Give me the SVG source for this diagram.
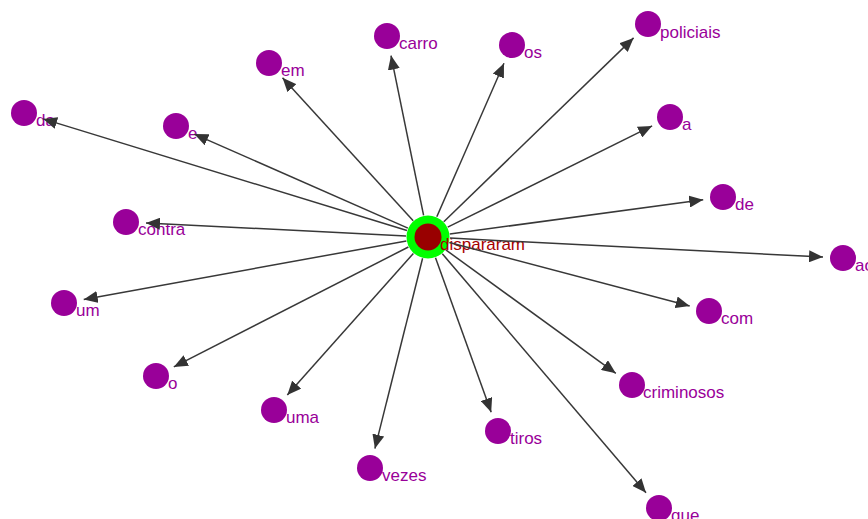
<svg xmlns="http://www.w3.org/2000/svg" width="868" height="519" viewBox="0 0 868 519">
<style>
.n{fill:#990099}
.t{font-family:"Liberation Sans",Arial,sans-serif;font-size:17px;fill:#990099}
.ct{font-family:"Liberation Sans",Arial,sans-serif;font-size:17px;fill:#a80000}
.e{stroke:#383838;stroke-width:1.5;fill:none;marker-end:url(#ah)}
</style>
<defs>
<marker id="ah" markerUnits="userSpaceOnUse" markerWidth="14" markerHeight="12" refX="14" refY="6" orient="auto">
<path d="M0,0 L14,6 L0,12 z" fill="#333333"/>
</marker>
</defs>
<rect width="868" height="519" fill="#ffffff"/>
<g id="nodes">
<g id="n-da"><circle class="n" cx="24" cy="113" r="13"/><text class="t" x="36" y="126">da</text></g>
<g id="n-e"><circle class="n" cx="176" cy="126" r="13"/><text class="t" x="188" y="139">e</text></g>
<g id="n-em"><circle class="n" cx="269" cy="63" r="13"/><text class="t" x="281" y="76">em</text></g>
<g id="n-carro"><circle class="n" cx="387" cy="36" r="13"/><text class="t" x="399" y="49">carro</text></g>
<g id="n-os"><circle class="n" cx="512" cy="45" r="13"/><text class="t" x="524" y="58">os</text></g>
<g id="n-policiais"><circle class="n" cx="648" cy="24" r="13"/><text class="t" x="660" y="38">policiais</text></g>
<g id="n-a"><circle class="n" cx="670" cy="117" r="13"/><text class="t" x="682" y="130">a</text></g>
<g id="n-de"><circle class="n" cx="723" cy="197" r="13"/><text class="t" x="735" y="210">de</text></g>
<g id="n-ao"><circle class="n" cx="843" cy="258" r="13"/><text class="t" x="855" y="271">ao</text></g>
<g id="n-com"><circle class="n" cx="709" cy="311" r="13"/><text class="t" x="721" y="324">com</text></g>
<g id="n-criminosos"><circle class="n" cx="632" cy="385" r="13"/><text class="t" x="643" y="398">criminosos</text></g>
<g id="n-que"><circle class="n" cx="659" cy="508" r="13"/><text class="t" x="671" y="521">que</text></g>
<g id="n-tiros"><circle class="n" cx="498" cy="431" r="13"/><text class="t" x="510" y="444">tiros</text></g>
<g id="n-vezes"><circle class="n" cx="370" cy="468" r="13"/><text class="t" x="382" y="481">vezes</text></g>
<g id="n-uma"><circle class="n" cx="274" cy="410" r="13"/><text class="t" x="286" y="423">uma</text></g>
<g id="n-o"><circle class="n" cx="156" cy="376" r="13"/><text class="t" x="168" y="389">o</text></g>
<g id="n-um"><circle class="n" cx="64" cy="303" r="13"/><text class="t" x="76" y="316">um</text></g>
<g id="n-contra"><circle class="n" cx="126" cy="222" r="13"/><text class="t" x="138" y="235">contra</text></g>
<g id="n-dispararam"><circle cx="428" cy="237" r="21.5" fill="#00ff00"/><circle cx="428" cy="237" r="13.5" fill="#990000"/><text class="ct" x="440" y="250">dispararam</text></g>
</g>
<g id="connectors">
<line class="e" x1="407" y1="230.5" x2="43.1" y2="118.9"/>
<line class="e" x1="407.9" y1="228.1" x2="194.3" y2="134.1"/>
<line class="e" x1="413.2" y1="220.8" x2="282.5" y2="77.8"/>
<line class="e" x1="423.6" y1="215.4" x2="391" y2="55.6"/>
<line class="e" x1="436.8" y1="216.8" x2="504" y2="63.3"/>
<line class="e" x1="443.8" y1="221.7" x2="633.6" y2="37.9"/>
<line class="e" x1="447.7" y1="227.2" x2="652.1" y2="125.9"/>
<line class="e" x1="449.8" y1="234" x2="703.2" y2="199.7"/>
<line class="e" x1="450" y1="238.1" x2="823" y2="257"/>
<line class="e" x1="449.3" y1="242.6" x2="689.7" y2="305.9"/>
<line class="e" x1="445.8" y1="249.9" x2="615.8" y2="373.3"/>
<line class="e" x1="442.3" y1="253.7" x2="646" y2="492.8"/>
<line class="e" x1="435.5" y1="257.7" x2="491.2" y2="412.2"/>
<line class="e" x1="422.6" y1="258.3" x2="374.9" y2="448.6"/>
<line class="e" x1="413.4" y1="253.4" x2="287.3" y2="395.1"/>
<line class="e" x1="408.4" y1="247" x2="173.8" y2="366.9"/>
<line class="e" x1="406.4" y1="240.9" x2="83.7" y2="299.4"/>
<line class="e" x1="406" y1="235.9" x2="146" y2="223"/>
</g>
</svg>
